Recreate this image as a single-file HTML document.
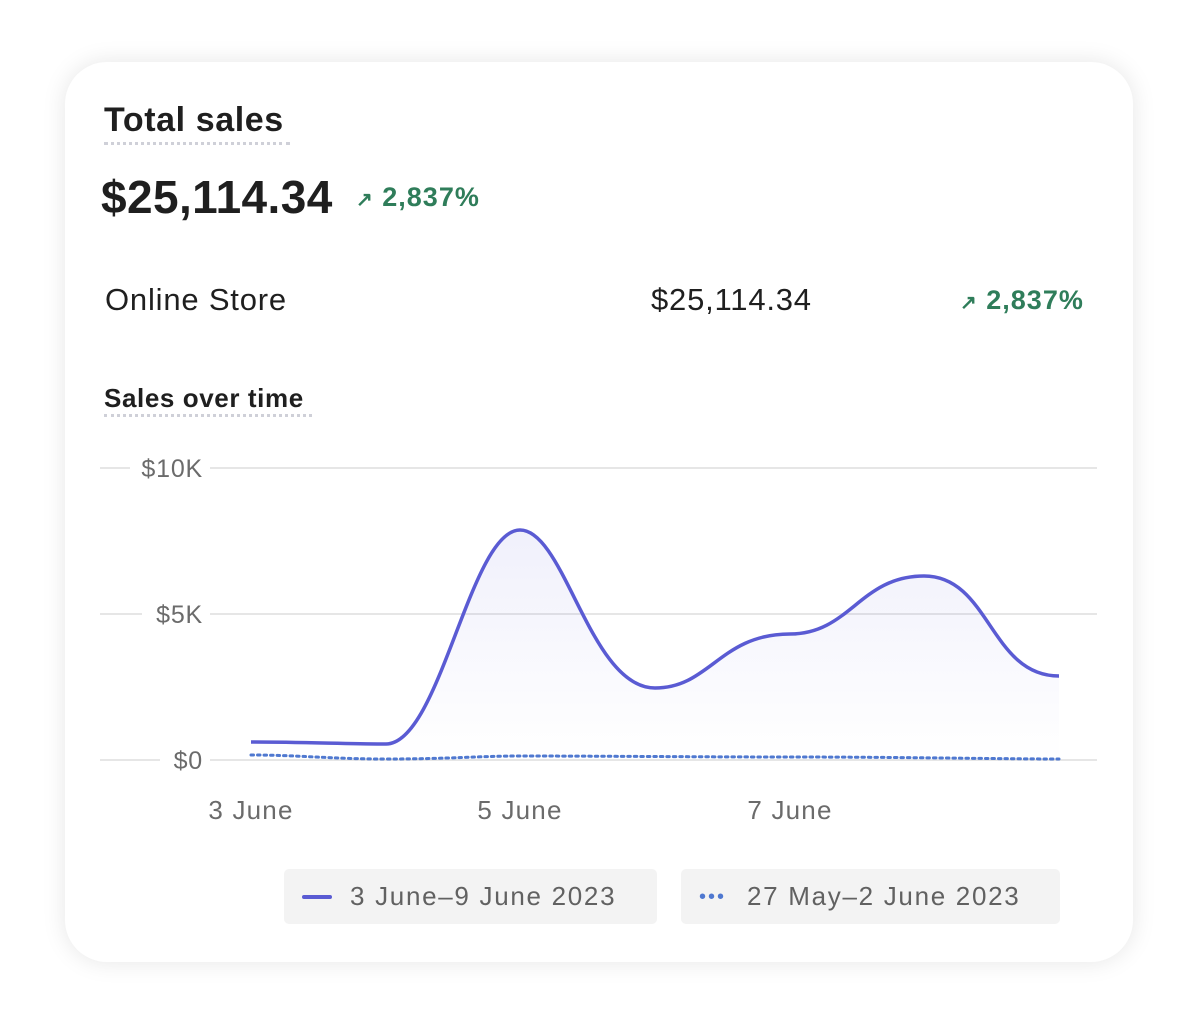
<!DOCTYPE html>
<html><head><style>
body{margin:0;width:1199px;height:1032px;background:#fff;font-family:"Liberation Sans",sans-serif;overflow:hidden;position:relative}
.card{position:absolute;left:65px;top:62px;width:1068px;height:900px;border-radius:42px;background:#fff;box-shadow:0 0 24px rgba(0,0,0,0.10)}
.t{position:absolute;white-space:nowrap;color:#1f1f1f}
.dot{position:absolute;height:0;border-top:3px dotted #cfd0d8}
.leg{position:absolute;top:869px;height:55px;background:#f3f3f3;border-radius:5px;color:#616161;font-size:26px;line-height:55px;letter-spacing:1.7px}
</style></head><body>
<div class="card"></div>
<div class="t" style="left:104px;top:101px;font-size:34px;font-weight:bold;letter-spacing:0.6px">Total sales</div>
<div class="dot" style="left:104px;top:142px;width:186px"></div>
<div class="t" style="left:101px;top:170px;font-size:46px;font-weight:bold;letter-spacing:0.4px">$25,114.34</div>
<div class="t" style="left:356px;top:182px;font-size:27px;font-weight:bold;color:#2f7d5a;letter-spacing:1px"><span style="font-size:20px">↗</span> 2,837%</div>
<div class="t" style="left:105px;top:282px;font-size:31px;letter-spacing:0.8px">Online Store</div>
<div class="t" style="left:651px;top:282px;font-size:31px;letter-spacing:0.8px">$25,114.34</div>
<div class="t" style="left:960px;top:285px;font-size:27px;font-weight:bold;color:#2f7d5a;letter-spacing:1px"><span style="font-size:20px">↗</span> 2,837%</div>
<div class="t" style="left:104px;top:383px;font-size:26px;font-weight:bold;letter-spacing:0.6px">Sales over time</div>
<div class="dot" style="left:104px;top:414px;width:208px"></div>
<svg style="position:absolute;left:0;top:0" width="1199" height="1032">
<defs><linearGradient id="g" x1="0" y1="0" x2="0" y2="1"><stop offset="0" stop-color="#5b5bd6" stop-opacity="0.09"/><stop offset="1" stop-color="#5b5bd6" stop-opacity="0"/></linearGradient></defs>
<g stroke="#e6e6e6" stroke-width="2">
<line x1="100" y1="468" x2="130" y2="468"/><line x1="210" y1="468" x2="1097" y2="468"/>
<line x1="100" y1="614" x2="142" y2="614"/><line x1="210" y1="614" x2="1097" y2="614"/>
<line x1="100" y1="760" x2="160" y2="760"/><line x1="210" y1="760" x2="1097" y2="760"/>
</g>
<g fill="#6b6b6b" font-size="25" text-anchor="end" font-family="Liberation Sans" letter-spacing="0.8">
<text x="203" y="477">$10K</text><text x="203" y="623">$5K</text><text x="203" y="769">$0</text>
</g>
<g fill="#6b6b6b" font-size="26" text-anchor="middle" font-family="Liberation Sans" letter-spacing="1.2">
<text x="251" y="819">3 June</text><text x="520" y="819">5 June</text><text x="790" y="819">7 June</text>
</g>
<path d="M251,742 C300,742 350,744 386,744 C440,744 470,530 520,530 C565,530 590,688 655,688 C710,688 720,634 790,634 C850,634 860,576 924,576 C990,576 990,676 1059,676 L1059,760 L251,760Z" fill="url(#g)"/>
<path d="M251,742 C300,742 350,744 386,744 C440,744 470,530 520,530 C565,530 590,688 655,688 C710,688 720,634 790,634 C850,634 860,576 924,576 C990,576 990,676 1059,676" fill="none" stroke="#5a5bd3" stroke-width="3.5"/>
<path d="M251,755 C300,755 330,759 386,759 C450,759 480,756 520,756 C600,756 700,757 790,757 C900,757 1000,759 1059,759" fill="none" stroke="#4f78d0" stroke-width="3" stroke-dasharray="2.5 4" stroke-linecap="round"/>
</svg>
<div class="leg" style="left:284px;width:373px"><span style="position:absolute;left:18px;top:26px;width:30px;height:4px;border-radius:2px;background:#5a5bd3"></span><span style="position:absolute;left:66px">3 June–9 June 2023</span></div>
<div class="leg" style="left:681px;width:379px"><span style="position:absolute;left:18px;top:22px;font-size:20px;line-height:12px;color:#4f78d0;letter-spacing:2px">•••</span><span style="position:absolute;left:66px">27 May–2 June 2023</span></div>
</body></html>
